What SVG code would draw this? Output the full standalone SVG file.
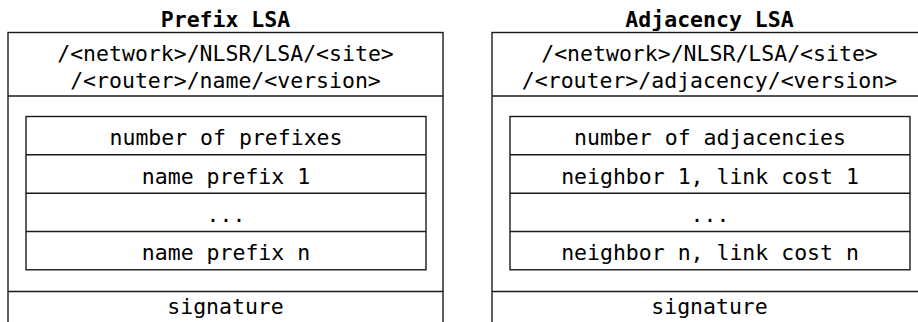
<svg xmlns="http://www.w3.org/2000/svg" width="918" height="322" viewBox="0 0 918 322">
<style>
.box{fill:none;stroke:#1a1a1a;stroke-width:1.4}
.ln{stroke:#1a1a1a;stroke-width:1.4}
text{font-family:"DejaVu Sans Mono","Liberation Mono",monospace;font-size:21.5px;fill:#000;text-anchor:middle}
.title{font-weight:bold}
</style>
<rect width="918" height="322" fill="#fff"/>
<g id="prefix-lsa">
  <text class="title" x="225.5" y="27">Prefix LSA</text>
  <rect class="box" x="8" y="32.5" width="435" height="310"/>
  <g id="prefix-name">
    <text x="225.5" y="61">/&lt;network&gt;/NLSR/LSA/&lt;site&gt;</text>
    <text x="225.5" y="88">/&lt;router&gt;/name/&lt;version&gt;</text>
    <line class="ln" x1="8" y1="96" x2="443" y2="96"/>
  </g>
  <g id="prefix-content">
    <rect class="box" x="26" y="116.5" width="400" height="153.3"/>
    <line class="ln" x1="26" y1="154.8" x2="426" y2="154.8"/>
    <line class="ln" x1="26" y1="193.2" x2="426" y2="193.2"/>
    <line class="ln" x1="26" y1="231.5" x2="426" y2="231.5"/>
    <text x="226" y="145">number of prefixes</text>
    <text x="226" y="183.5">name prefix 1</text>
    <text x="226" y="221.5">...</text>
    <text x="226" y="260">name prefix n</text>
  </g>
  <g id="prefix-signature">
    <line class="ln" x1="8" y1="291.5" x2="443" y2="291.5"/>
    <text x="225.5" y="314">signature</text>
  </g>
</g>
<g id="adjacency-lsa">
  <text class="title" x="709.5" y="27">Adjacency LSA</text>
  <rect class="box" x="492" y="32.5" width="435" height="310"/>
  <g id="adjacency-name">
    <text x="709.5" y="61">/&lt;network&gt;/NLSR/LSA/&lt;site&gt;</text>
    <text x="709.5" y="88">/&lt;router&gt;/adjacency/&lt;version&gt;</text>
    <line class="ln" x1="492" y1="96" x2="927" y2="96"/>
  </g>
  <g id="adjacency-content">
    <rect class="box" x="510" y="116.5" width="400" height="153.3"/>
    <line class="ln" x1="510" y1="154.8" x2="910" y2="154.8"/>
    <line class="ln" x1="510" y1="193.2" x2="910" y2="193.2"/>
    <line class="ln" x1="510" y1="231.5" x2="910" y2="231.5"/>
    <text x="710" y="145">number of adjacencies</text>
    <text x="710" y="183.5">neighbor 1, link cost 1</text>
    <text x="710" y="221.5">...</text>
    <text x="710" y="260">neighbor n, link cost n</text>
  </g>
  <g id="adjacency-signature">
    <line class="ln" x1="492" y1="291.5" x2="927" y2="291.5"/>
    <text x="709.5" y="314">signature</text>
  </g>
</g>
<g id="connectors"/>
</svg>
